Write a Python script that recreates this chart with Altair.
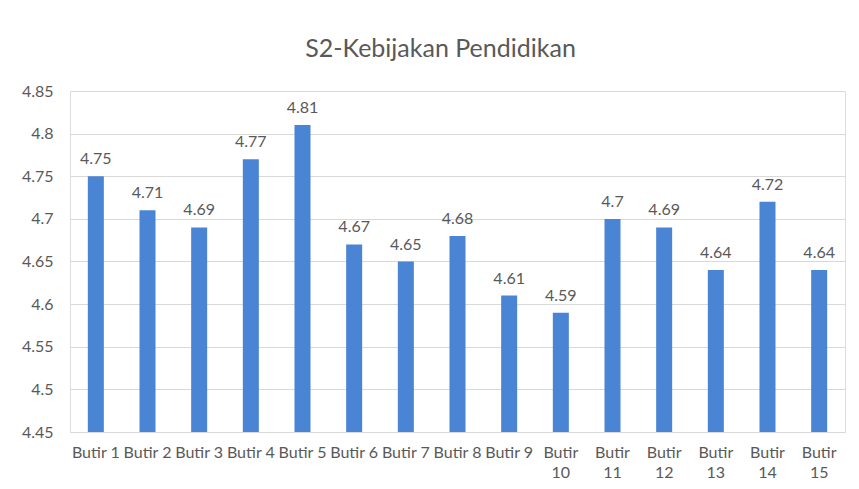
import altair as alt
import pandas as pd

categories = [f"Butir {i}" for i in range(1, 16)]
values = [4.75, 4.71, 4.69, 4.77, 4.81, 4.67, 4.65, 4.68, 4.61, 4.59, 4.70, 4.69, 4.64, 4.72, 4.64]
y_ticks = [4.45, 4.5, 4.55, 4.6, 4.65, 4.7, 4.75, 4.8, 4.85]

df = pd.DataFrame({"cat": categories, "val": values, "base": [4.45] * len(values)})

FONT = "Lato"
TXT = "#595959"

x = alt.X(
    "cat:N", sort=categories, title=None,
    scale=alt.Scale(paddingInner=0.69, paddingOuter=0.345),
    axis=alt.Axis(
        labelAngle=0, labelFont=FONT, labelFontSize=16, labelColor=TXT,
        labelPadding=12, ticks=False, domain=False, grid=False,
        labelExpr="length(datum.label) > 7 ? split(datum.label, ' ') : datum.label",
        labelLineHeight=20, labelBaseline="top",
    ),
)
y = alt.Y(
    "val:Q", title=None,
    scale=alt.Scale(domain=[4.45, 4.85], zero=False, nice=False),
    axis=alt.Axis(
        values=y_ticks, format=".2~f", labelFont=FONT, labelFontSize=16,
        labelColor=TXT, ticks=False, domain=False, gridColor="#d9d9d9",
        labelPadding=17,
    ),
)

bars = alt.Chart(df).mark_bar(color="#4a84d5").encode(x=x, y=y, y2="base:Q")
labels = alt.Chart(df).mark_text(
    baseline="bottom", dy=-9, font=FONT, fontSize=16, color=TXT
).encode(x=x, y=y, text=alt.Text("val:Q", format=".2~f"))

chart = (
    alt.layer(bars, labels)
    .properties(
        width=775, height=341,
        title=alt.TitleParams(
            "S2-Kebijakan Pendidikan", font=FONT, fontSize=25, fontWeight="normal",
            color=TXT, offset=21, anchor="middle", dx=-17,
        ),
        autosize=alt.AutoSizeParams(type="none"),
        padding={"left": 62, "top": 83, "right": 6, "bottom": 60},
    )
    .configure_view(stroke=None)
    .configure(background="white")
)

chart.save("out.html", embed_options={"renderer": "svg", "actions": False})
